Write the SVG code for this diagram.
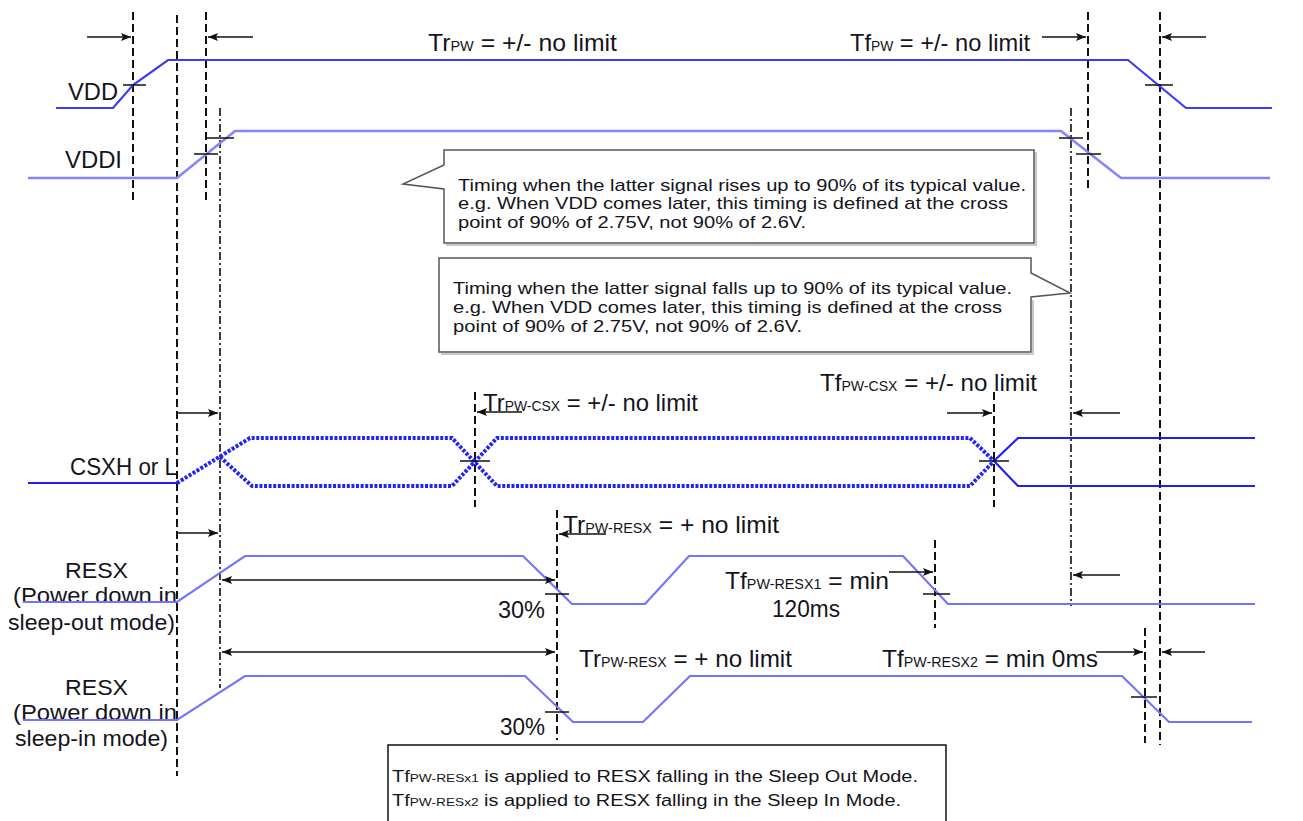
<svg xmlns="http://www.w3.org/2000/svg" width="1303" height="821" viewBox="0 0 1303 821">
<style>
text{font-family:"Liberation Sans",Arial,sans-serif;fill:#141420}
.lb{font-size:24px}
.lb2{font-size:22px}
.cl{font-size:17px}
.bx{font-size:16px}
.sm{font-size:14px}
.smb{font-size:11px}
.dash{stroke:#111;stroke-width:2;stroke-dasharray:8 4;fill:none}
.dd{stroke:#111;stroke-width:1.6;stroke-dasharray:8 3 2 3;fill:none}
.tick{stroke:#111;stroke-width:1.5;fill:none}
.arr{stroke:#111;stroke-width:1.5;fill:none;marker-end:url(#ah)}
.darr{stroke:#111;stroke-width:1.5;fill:none;marker-end:url(#ah);marker-start:url(#ahs)}
.vdd{stroke:#3b3bf4;stroke-width:2.2;fill:none}
.vddi{stroke:#8585ff;stroke-width:2.6;fill:none}
.csx{stroke:#1e1ef2;stroke-width:2.2;fill:none}
.csxd{stroke:#2424f0;stroke-width:4;stroke-dasharray:3 1.6;fill:none}
.resx{stroke:#7373ff;stroke-width:2.2;fill:none}
.call{fill:#fff;stroke:#555;stroke-width:1.5}
.shadow{fill:none;stroke:#c8c8c8;stroke-width:2}
</style>
<defs>
<marker id="ah" markerUnits="userSpaceOnUse" markerWidth="10" markerHeight="8" refX="10" refY="4" orient="auto">
<path d="M0,0 L10,4 L0,8 L2,4 Z" fill="#111"/>
</marker>
<marker id="ahs" markerUnits="userSpaceOnUse" markerWidth="10" markerHeight="8" refX="0" refY="4" orient="auto">
<path d="M10,0 L0,4 L10,8 L8,4 Z" fill="#111"/>
</marker>
</defs>
<rect width="1303" height="821" fill="#fff"/>

<g id="guides">
<line class="dash" x1="133" y1="12" x2="133" y2="203"/>
<line class="dash" x1="177" y1="15" x2="177" y2="776"/>
<line class="dash" x1="206" y1="12" x2="206" y2="203"/>
<line class="dash" x1="1088" y1="12" x2="1088" y2="190"/>
<line class="dash" x1="1160" y1="12" x2="1160" y2="745"/>
<line class="dash" x1="1145" y1="628" x2="1145" y2="743"/>
<line class="dash" x1="475" y1="392" x2="475" y2="507"/>
<line class="dash" x1="994" y1="392" x2="994" y2="507"/>
<line class="dash" x1="557" y1="510" x2="557" y2="740"/>
<line class="dash" x1="935" y1="540" x2="935" y2="628"/>
<line class="dd" x1="220" y1="108" x2="220" y2="688"/>
<line class="dd" x1="1071" y1="108" x2="1071" y2="606"/>
</g>

<g id="callout1">
<path class="shadow" d="M446,245 L1036,245 L1036,152"/>
<path class="call" d="M444,150 L1034,150 L1034,243 L444,243 L444,189 L403,184 L444,165 Z"/>
<text class="cl" x="458" y="191" textLength="568" lengthAdjust="spacingAndGlyphs">Timing when the latter signal rises up to 90% of its typical value.</text>
<text class="cl" x="458" y="209" textLength="550" lengthAdjust="spacingAndGlyphs">e.g. When VDD comes later, this timing is defined at the cross</text>
<text class="cl" x="458" y="228" textLength="348" lengthAdjust="spacingAndGlyphs">point of 90% of 2.75V, not 90% of 2.6V.</text>
</g>

<g id="callout2">
<path class="shadow" d="M441,354 L1033,354 L1033,300"/>
<path class="call" d="M439,258 L1031,258 L1031,273 L1070,293 L1031,297 L1031,352 L439,352 Z"/>
<text class="cl" x="453" y="294" textLength="559" lengthAdjust="spacingAndGlyphs">Timing when the latter signal falls up to 90% of its typical value.</text>
<text class="cl" x="453" y="313" textLength="549" lengthAdjust="spacingAndGlyphs">e.g. When VDD comes later, this timing is defined at the cross</text>
<text class="cl" x="453" y="332" textLength="349" lengthAdjust="spacingAndGlyphs">point of 90% of 2.75V, not 90% of 2.6V.</text>
</g>

<g id="vdd">
<text class="lb" x="68" y="100" textLength="50" lengthAdjust="spacingAndGlyphs">VDD</text>
<path class="vdd" d="M56,108 L113,108 L133,85 L168,60 L1128,60 L1186,108 L1272,108"/>
</g>

<g id="vddi">
<text class="lb" x="65" y="168" textLength="57" lengthAdjust="spacingAndGlyphs">VDDI</text>
<path class="vddi" d="M28,178 L177,178 L235,131 L1061,131 L1121,178 L1270,178"/>
</g>

<g id="csx">
<text class="lb" x="70" y="475" textLength="107" lengthAdjust="spacingAndGlyphs">CSXH or L</text>
<path class="csx" d="M28,483 L177,483"/>
<path class="csxd" d="M177,483 L250,438 L452,438 L497,486 L970,486 L994,461"/>
<path class="csxd" d="M220,457 L252,486 L452,486 L497,438 L970,438 L994,461"/>
<path class="csx" d="M994,461 L1018,438 L1255,438 M994,461 L1018,486 L1255,486"/>
</g>

<g id="resx-out">
<text class="lb2" x="65" y="578" textLength="63" lengthAdjust="spacingAndGlyphs">RESX</text>
<text class="lb2" x="13" y="603" textLength="164" lengthAdjust="spacingAndGlyphs">(Power down in</text>
<text class="lb2" x="8" y="630" textLength="167" lengthAdjust="spacingAndGlyphs">sleep-out mode)</text>
<path class="resx" d="M23,602 L177,602 L245,556 L523,556 L572,604 L645,604 L689,556 L903,556 L948,604 L1255,604"/>
</g>

<g id="resx-in">
<text class="lb2" x="65" y="695" textLength="63" lengthAdjust="spacingAndGlyphs">RESX</text>
<text class="lb2" x="13" y="720" textLength="164" lengthAdjust="spacingAndGlyphs">(Power down in</text>
<text class="lb2" x="15" y="746" textLength="153" lengthAdjust="spacingAndGlyphs">sleep-in mode)</text>
<path class="resx" d="M23,720 L177,720 L245,676 L525,676 L573,722 L643,722 L690,676 L1122,676 L1169,722 L1252,722"/>
</g>

<g id="labels">
<text class="lb" x="428" y="51" textLength="189" lengthAdjust="spacingAndGlyphs">Tr<tspan class="sm">PW</tspan> = +/- no limit</text>
<text class="lb" x="850" y="51" textLength="180" lengthAdjust="spacingAndGlyphs">Tf<tspan class="sm">PW</tspan> = +/- no limit</text>
<text class="lb" x="483" y="411" textLength="215" lengthAdjust="spacingAndGlyphs">Tr<tspan class="sm">PW-CSX</tspan> = +/- no limit</text>
<text class="lb" x="820" y="391" textLength="217" lengthAdjust="spacingAndGlyphs">Tf<tspan class="sm">PW-CSX</tspan> = +/- no limit</text>
<text class="lb" x="563" y="533" textLength="216" lengthAdjust="spacingAndGlyphs">Tr<tspan class="sm">PW-RESX</tspan> = + no limit</text>
<text class="lb" x="498" y="618" textLength="47" lengthAdjust="spacingAndGlyphs">30%</text>
<text class="lb" x="725" y="589" textLength="164" lengthAdjust="spacingAndGlyphs">Tf<tspan class="sm">PW-RESX1</tspan> = min</text>
<text class="lb" x="772" y="617" textLength="68" lengthAdjust="spacingAndGlyphs">120ms</text>
<text class="lb" x="579" y="667" textLength="213" lengthAdjust="spacingAndGlyphs">Tr<tspan class="sm">PW-RESX</tspan> = + no limit</text>
<text class="lb" x="882" y="667" textLength="216" lengthAdjust="spacingAndGlyphs">Tf<tspan class="sm">PW-RESX2</tspan> = min 0ms</text>
<text class="lb" x="500" y="735" textLength="45" lengthAdjust="spacingAndGlyphs">30%</text>
</g>

<g id="connectors">
<line class="tick" x1="123" y1="85" x2="146" y2="85"/>
<line class="tick" x1="1145" y1="85" x2="1173" y2="85"/>
<line class="tick" x1="194" y1="154" x2="218" y2="154"/>
<line class="tick" x1="207" y1="138" x2="234" y2="138"/>
<line class="tick" x1="1059" y1="138" x2="1083" y2="138"/>
<line class="tick" x1="1076" y1="154" x2="1101" y2="154"/>
<line class="tick" x1="460" y1="461" x2="490" y2="461"/>
<line class="tick" x1="979" y1="461" x2="1009" y2="461"/>
<line class="tick" x1="545" y1="594" x2="569" y2="594"/>
<line class="tick" x1="923" y1="594" x2="950" y2="594"/>
<line class="tick" x1="545" y1="712" x2="569" y2="712"/>
<line class="tick" x1="1131" y1="697" x2="1157" y2="697"/>
<line class="arr" x1="87" y1="37" x2="131" y2="37"/>
<line class="arr" x1="253" y1="37" x2="208" y2="37"/>
<line class="arr" x1="1042" y1="37" x2="1086" y2="37"/>
<line class="arr" x1="1206" y1="37" x2="1162" y2="37"/>
<line class="arr" x1="177" y1="413" x2="218" y2="413"/>
<line class="arr" x1="177" y1="533" x2="218" y2="533"/>
<line class="arr" x1="522" y1="412" x2="477" y2="412"/>
<line class="arr" x1="606" y1="534" x2="559" y2="534"/>
<line class="arr" x1="947" y1="413" x2="992" y2="413"/>
<line class="arr" x1="1120" y1="413" x2="1073" y2="413"/>
<line class="arr" x1="889" y1="572" x2="933" y2="572"/>
<line class="arr" x1="1120" y1="575" x2="1073" y2="575"/>
<line class="arr" x1="1096" y1="652" x2="1143" y2="652"/>
<line class="arr" x1="1205" y1="652" x2="1162" y2="652"/>
<line class="darr" x1="222" y1="580" x2="555" y2="580"/>
<line class="darr" x1="222" y1="652" x2="555" y2="652"/>
</g>

<g id="notebox">
<rect x="388" y="745" width="558" height="90" fill="#fff" stroke="#111" stroke-width="1.5"/>
<text class="bx" x="392" y="782" textLength="526" lengthAdjust="spacingAndGlyphs">Tf<tspan class="smb">PW-RESx1</tspan> is applied to RESX falling in the Sleep Out Mode.</text>
<text class="bx" x="392" y="806" textLength="509" lengthAdjust="spacingAndGlyphs">Tf<tspan class="smb">PW-RESx2</tspan> is applied to RESX falling in the Sleep In Mode.</text>
</g>
</svg>
